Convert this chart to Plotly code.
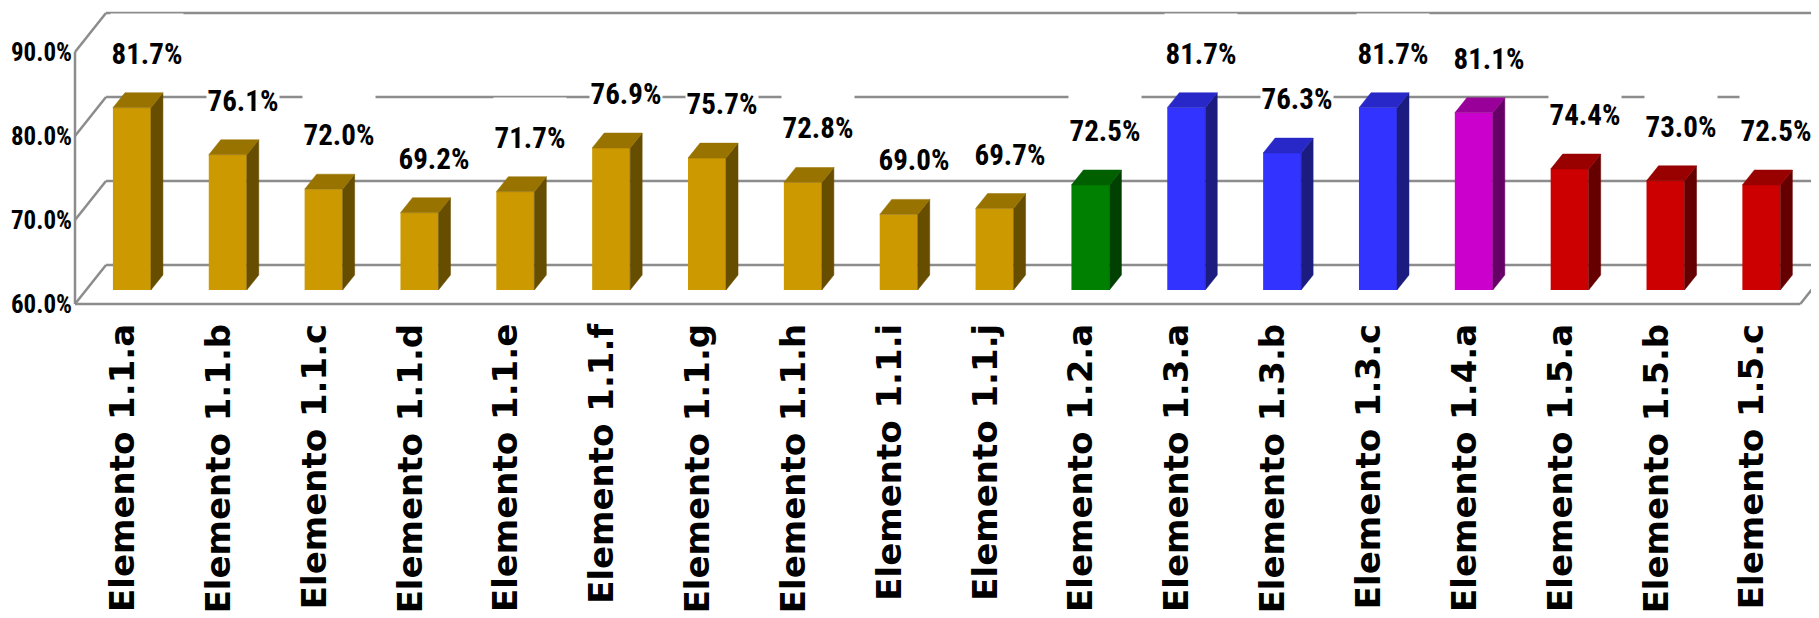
import plotly.graph_objects as go

# ---------------- data ----------------
categories = [
    "Elemento 1.1.a", "Elemento 1.1.b", "Elemento 1.1.c", "Elemento 1.1.d",
    "Elemento 1.1.e", "Elemento 1.1.f", "Elemento 1.1.g", "Elemento 1.1.h",
    "Elemento 1.1.i", "Elemento 1.1.j", "Elemento 1.2.a", "Elemento 1.3.a",
    "Elemento 1.3.b", "Elemento 1.3.c", "Elemento 1.4.a", "Elemento 1.5.a",
    "Elemento 1.5.b", "Elemento 1.5.c",
]
values = [81.7, 76.1, 72.0, 69.2, 71.7, 76.9, 75.7, 72.8, 69.0, 69.7,
          72.5, 81.7, 76.3, 81.7, 81.1, 74.4, 73.0, 72.5]
groups = ["1.1"] * 10 + ["1.2"] + ["1.3"] * 3 + ["1.4"] + ["1.5"] * 3
tick_values = [60, 70, 80, 90]
tick_labels = ["60.0%", "70.0%", "80.0%", "90.0%"]

# (front, top, side) colours per group
palette = {
    "1.1": ("#CC9900", "#997300", "#664D00"),
    "1.2": ("#008000", "#006000", "#004000"),
    "1.3": ("#3333FF", "#2828C8", "#1C1C80"),
    "1.4": ("#CC00CC", "#990099", "#660066"),
    "1.5": ("#CC0000", "#990000", "#660000"),
}

# ---------------- geometry (page pixels -> axis units) ----------------
PAGE_W, PAGE_H = 1819, 618
OFF = 8                      # default body margin of the html page
W, H = PAGE_W - OFF, PAGE_H - OFF
PX_X = 95.85      # pixels per category
PX_Y = 8.4        # pixels per percentage point
L, T = 73 - OFF, 8 - OFF     # plot-area left / top (figure pixels)
FRONT_LEFT = 75 - OFF        # front plane left edge
FLOOR = 304 - OFF            # front floor
BOTTOM = 308 - OFF           # plot-area bottom
BASE = tick_values[0]

x0 = -0.5 - (FRONT_LEFT - L) / PX_X
x1 = x0 + (W - L) / PX_X
y0 = BASE - (BOTTOM - FLOOR) / PX_Y
y1 = BASE + (FLOOR - T) / PX_Y

wall_dx, wall_dy = 31 / PX_X, 39 / PX_Y     # wall depth
bar_ox, bar_oy = 9 / PX_X, 14 / PX_Y        # bar front plane offset
bar_dx, bar_dy = 12 / PX_X, 15 / PX_Y       # bar depth
bar_w = 38 / PX_X
n = len(categories)

fig = go.Figure()

# front faces
fig.add_trace(go.Bar(
    x=[i + bar_ox for i in range(n)],
    y=[v - BASE for v in values],
    base=BASE + bar_oy,
    width=bar_w,
    marker=dict(color=[palette[g][0] for g in groups], line=dict(width=0)),
    hoverinfo="skip",
))

# top and side faces
for i, (v, g) in enumerate(zip(values, groups)):
    front, top, side = palette[g]
    xl = i + bar_ox - bar_w / 2
    xr = i + bar_ox + bar_w / 2
    yb = BASE + bar_oy
    yt = v + bar_oy
    fig.add_trace(go.Scatter(
        x=[xr, xr, xr + bar_dx, xr + bar_dx, xr],
        y=[yb, yt, yt + bar_dy, yb + bar_dy, yb],
        fill="toself", fillcolor=side, mode="lines",
        line=dict(color=side, width=0.5), hoverinfo="skip",
    ))
    fig.add_trace(go.Scatter(
        x=[xl, xr, xr + bar_dx, xl + bar_dx, xl],
        y=[yt, yt, yt + bar_dy, yt + bar_dy, yt],
        fill="toself", fillcolor=top, mode="lines",
        line=dict(color=top, width=0.5), hoverinfo="skip",
    ))

# walls / gridlines
grid = dict(color="#8C8C8C", width=2.5)
shapes = []
xl_front = -0.5
xr_front = n - 0.5
for t in tick_values:
    shapes.append(dict(type="line", xref="x", yref="y", layer="below",
                       x0=xl_front + wall_dx, y0=t + wall_dy,
                       x1=x1 + 2, y1=t + wall_dy, line=grid))
    shapes.append(dict(type="line", xref="x", yref="y", layer="below",
                       x0=xl_front, y0=t, x1=xl_front + wall_dx, y1=t + wall_dy,
                       line=grid))
shapes.append(dict(type="line", xref="x", yref="y", layer="below",
                   x0=xl_front, y0=tick_values[0], x1=xl_front, y1=tick_values[-1],
                   line=grid))
shapes.append(dict(type="line", xref="x", yref="y", layer="below",
                   x0=xl_front, y0=BASE, x1=xr_front, y1=BASE, line=grid))
shapes.append(dict(type="line", xref="x", yref="y", layer="below",
                   x0=xr_front, y0=BASE, x1=xr_front + wall_dx, y1=BASE + wall_dy,
                   line=grid))

LABEL_FONT = "Liberation Sans Narrow, Arial Narrow, Roboto Condensed, DejaVu Sans Condensed, sans-serif"

annotations = []
for i, v in enumerate(values):
    annotations.append(dict(
        x=i + bar_ox, y=v + bar_oy, xref="x", yref="y",
        text=f"{v:.1f}%", showarrow=False,
        xanchor="center", yanchor="bottom",
        xshift=15, yshift=36,
        width=72, height=57, valign="bottom", borderpad=0,
        bgcolor="white",
        font=dict(family=LABEL_FONT, size=29, color="black", weight="bold"),
    ))

fig.update_layout(
    width=W, height=H,
    margin=dict(l=L, r=0, t=T, b=H - BOTTOM, autoexpand=False),
    paper_bgcolor="white", plot_bgcolor="white",
    showlegend=False,
    shapes=shapes, annotations=annotations,
    xaxis=dict(
        range=[x0, x1], tickmode="array", tickvals=list(range(n)), ticktext=categories,
        tickangle=-90, showgrid=False, zeroline=False, showline=False, ticks="",
        ticklabelstandoff=8, automargin=False,
        tickfont=dict(family="DejaVu Sans, Arial, sans-serif", size=34, color="black", weight="bold"),
    ),
    yaxis=dict(
        range=[y0, y1], tickmode="array", tickvals=tick_values, ticktext=tick_labels,
        showgrid=False, zeroline=False, showline=False, ticks="", automargin=False,
        tickfont=dict(family=LABEL_FONT, size=25, color="black", weight="bold"),
    ),
)

fig.write_html("out.html")
